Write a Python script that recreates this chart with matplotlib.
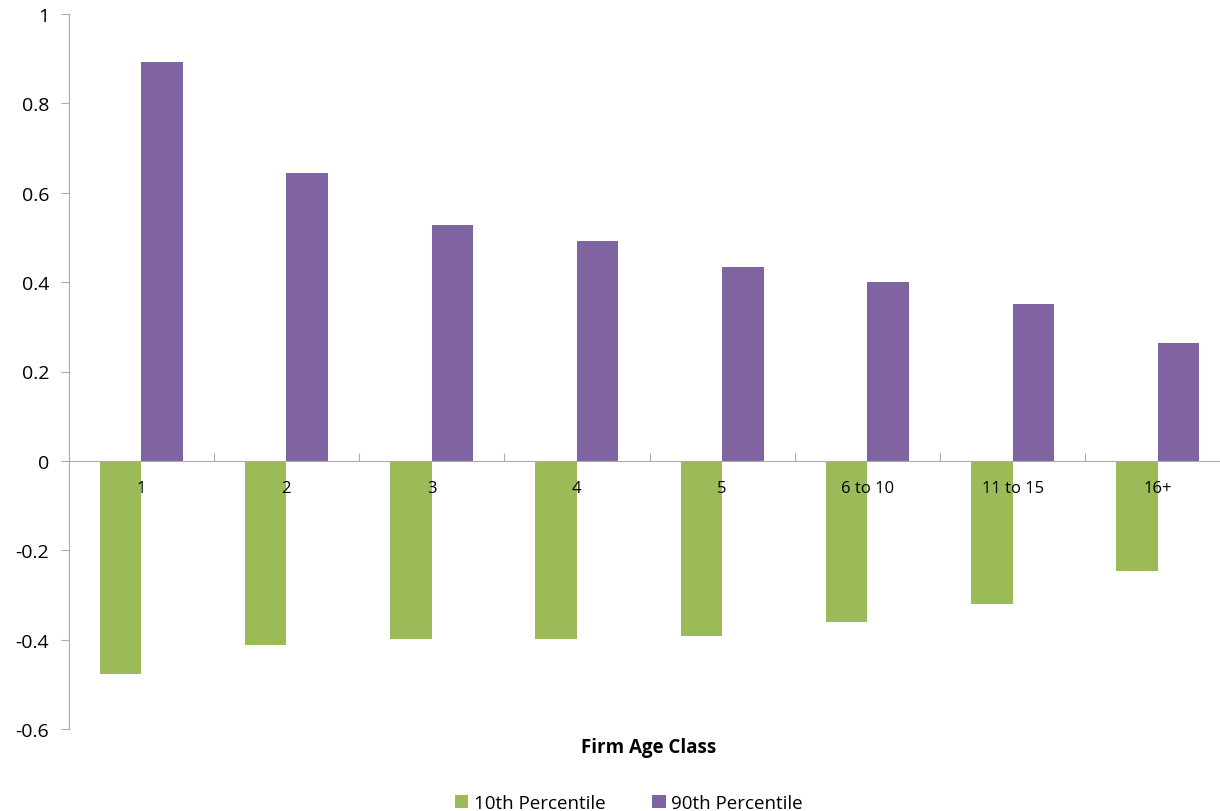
import matplotlib
matplotlib.use('Agg')
import matplotlib.pyplot as plt
import numpy as np

# data
categories = ['1', '2', '3', '4', '5', '6 to 10', '11 to 15', '16+']
p10 = [-0.476, -0.412, -0.398, -0.398, -0.391, -0.360, -0.320, -0.246]
p90 = [0.893, 0.644, 0.528, 0.492, 0.434, 0.400, 0.351, 0.264]

plt.rcParams['font.family'] = ['Open Sans', 'DejaVu Sans']

green = '#9BBB59'
purple = '#8064A2'
axis_grey = '#ABABAB'

fig = plt.figure(figsize=(12.2, 8.12), dpi=100)
# plot area runs a little past the right edge of the picture, as in the reference
ax = fig.add_axes([68.5 / 1220, 1 - 730 / 812, 1162 / 1220, (730 - 15) / 812])

x = np.arange(len(categories))
w = 0.285
b1 = ax.bar(x - w / 2, p10, w, color=green, label='10th Percentile')
b2 = ax.bar(x + w / 2, p90, w, color=purple, label='90th Percentile')

ax.set_xlim(-0.5, len(categories) - 0.5)
ax.set_ylim(-0.6, 1.0)
ax.set_yticks(np.arange(-0.6, 1.01, 0.2))
ax.set_yticklabels(['-0.6', '-0.4', '-0.2', '0', '0.2', '0.4', '0.6', '0.8', '1'])

for s in ['top', 'right']:
    ax.spines[s].set_visible(False)
ax.spines['left'].set_color(axis_grey)
ax.spines['bottom'].set_color(axis_grey)
ax.spines['bottom'].set_position(('data', 0))

# boundary ticks on the zero line, labels at the centres
ax.set_xticks(np.arange(0.5, len(categories) - 0.5, 1.0))
ax.set_xticklabels([])
ax.set_xticks(x, minor=True)
ax.set_xticklabels(categories, minor=True)
ax.tick_params(axis='x', which='major', direction='in', length=6, color=axis_grey)
ax.tick_params(axis='x', which='minor', length=0, pad=14, labelsize=12)
ax.tick_params(axis='y', direction='out', length=6, color=axis_grey, labelsize=14, pad=8)

fig.text(649 / 1220, 1 - 748 / 812, 'Firm Age Class', ha='center', va='center',
         fontsize=13.5, fontweight='bold')

fig.legend(handles=[b1, b2], loc='lower center', bbox_to_anchor=(629 / 1220, -0.022),
           ncol=2, frameon=False, fontsize=13.5, handlelength=0.7, handleheight=0.7,
           handletextpad=0.3, columnspacing=2.5)

fig.savefig('out.png', dpi=100)
